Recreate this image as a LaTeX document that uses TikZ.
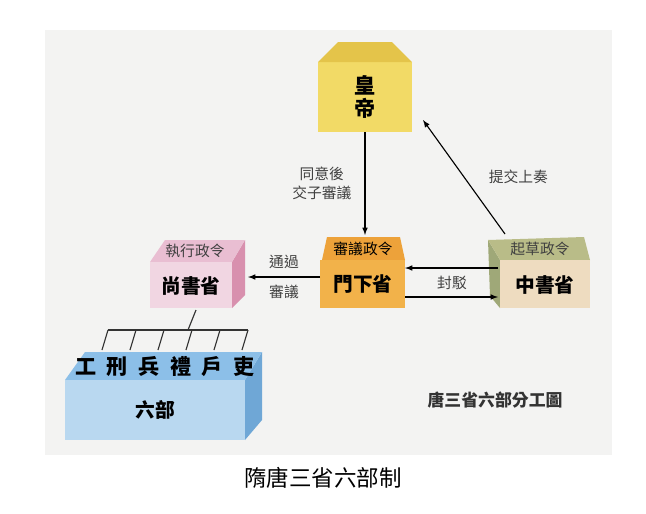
\documentclass[tikz,border=0pt]{standalone}
\usepackage{fontspec}
\setmainfont{Noto Sans CJK TC}
\usetikzlibrary{positioning}
\definecolor{panelgray}{HTML}{F3F3F2}
\definecolor{emperoryellow}{HTML}{F2DA66}
\definecolor{roofyellow}{HTML}{E4C44A}
\definecolor{menxiaorange}{HTML}{F2B24A}
\definecolor{menxiatop}{HTML}{EDA23A}
\definecolor{zhongfront}{HTML}{EEDCC0}
\definecolor{zhongtop}{HTML}{B9BC88}
\definecolor{zhongside}{HTML}{9FA878}
\definecolor{shangfront}{HTML}{F1D6E2}
\definecolor{shangtop}{HTML}{E9BED2}
\definecolor{shangside}{HTML}{D890AE}
\definecolor{liubufront}{HTML}{B9D8F0}
\definecolor{liubutop}{HTML}{8CBFE8}
\definecolor{liubuside}{HTML}{6FA7D6}
\begin{document}
\begin{tikzpicture}[x=0.025cm, y=-0.025cm, -latex, thick,
    label/.style={font=\fontsize{10.5}{14}\selectfont, text=black!75, align=center},
    title/.style={font=\fontsize{14}{16}\selectfont\bfseries},
    line/.style={arrows=-, black!80, thick}]
\useasboundingbox (0,0) rectangle (646,514);
\fill[panelgray] (45,30) rectangle (612,455);
% emperor
\fill[emperoryellow] (318,62) rectangle (412,132);
\fill[roofyellow] (318,62) -- (338,42) -- (392,42) -- (412,62) -- cycle;
\node[title, align=center, font=\fontsize{15}{17}\selectfont\bfseries] (E) at (365,97) {皇\\[-1pt]帝};
% menxia
\fill[menxiatop] (322,260) -- (327,237) -- (400,237) -- (405,260) -- cycle;
\fill[menxiaorange] (320,260) rectangle (405,308);
\node[label, text=black] (MT) at (363,249) {審議政令};
\node[title] (M) at (363,284) {門下省};
% zhongshu
\fill[zhongside] (488,240) -- (500,260) -- (500,308) -- (490,296) -- cycle;
\fill[zhongtop] (488,240) -- (584,237) -- (590,260) -- (500,260) -- cycle;
\fill[zhongfront] (500,260) rectangle (590,308);
\node[label] (ZT) at (540,249) {起草政令};
\node[title] (Z) at (545,285) {中書省};
% shangshu
\fill[shangside] (232,262) -- (245,240) -- (245,295) -- (232,308) -- cycle;
\fill[shangtop] (150,262) -- (165,240) -- (245,240) -- (232,262) -- cycle;
\fill[shangfront] (150,262) rectangle (232,308);
\node[label, font=\fontsize{10.5}{14}\selectfont\itshape] (ST) at (195,251) {執行政令};
\node[title] (S) at (191,286) {尚書省};
% liubu
\fill[liubuside] (245,380) -- (262,352) -- (262,420) -- (245,440) -- cycle;
\fill[liubutop] (65,380) -- (85,352) -- (262,352) -- (245,380) -- cycle;
\fill[liubufront] (65,380) rectangle (245,440);
\node[title, font=\fontsize{15}{17}\selectfont\bfseries\itshape] (LT) at (165,367) {工\hspace{0.5em}刑\hspace{0.5em}兵\hspace{0.5em}禮\hspace{0.5em}戶\hspace{0.5em}吏};
\node[title] (L) at (155,410) {六部};
% tree
\coordinate (T0) at (196,310);
\coordinate (T1) at (188,330);
\draw[line] (T0) -- (T1);
\draw[line] (108,330) -- (248,330);
\foreach \x in {108,136,164,192,220,248}
  \draw[line] (\x,330) -- (\x-6,350);
% arrows
\coordinate (Ebot) at (365,132);
\coordinate (Mtop) at (365,235);
\draw (Ebot) -- node[label, left=6pt] {同意後\\交子審議} (Mtop);
\coordinate (Zup) at (505,234);
\coordinate (Ein) at (423,120);
\draw (Zup) -- node[label, right=14pt] {提交上奏} (Ein);
\coordinate (Zl1) at (498,268);
\coordinate (Ml1) at (405,268);
\draw (Zl1) -- (Ml1);
\coordinate (Mr2) at (405,297);
\coordinate (Zl2) at (498,297);
\draw (Mr2) -- (Zl2);
\node[label] at (452,283) {封駁};
\coordinate (Ml) at (320,277);
\coordinate (Sr) at (248,277);
\draw (Ml) -- node[label, above=2pt] {通過} node[label, below=2pt] {審議} (Sr);
% captions
\node[font=\fontsize{12}{14}\selectfont\bfseries, text=black!80] (C) at (495,400) {唐三省六部分工圖};
\node[font=\fontsize{16}{18}\selectfont] (B) at (323,478) {隋唐三省六部制};
\end{tikzpicture}
\end{document}
